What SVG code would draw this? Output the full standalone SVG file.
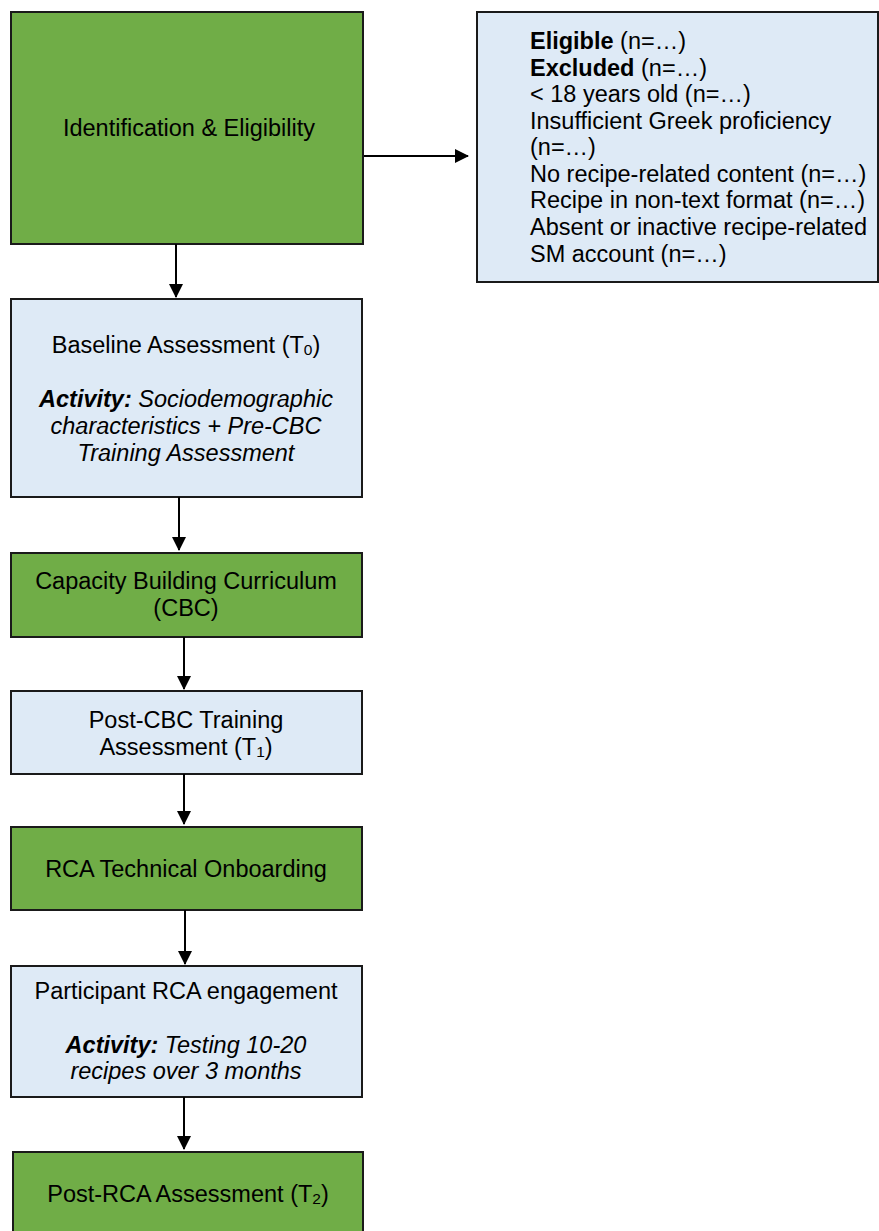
<svg xmlns="http://www.w3.org/2000/svg" width="879" height="1231" viewBox="0 0 879 1231">
<style>
.g{fill:#70AD47;stroke:#1a1a1a;stroke-width:2}
.b{fill:#DEEAF6;stroke:#1a1a1a;stroke-width:2}
text{font-family:"Liberation Sans",Arial,sans-serif;font-size:23.5px;fill:#000}
.c{text-anchor:middle}
.bd{font-weight:bold}
.it{font-style:italic}
.sub{font-size:15.5px}
.conn line{stroke:#000;stroke-width:2}
</style>
<defs>
<marker id="ah" markerWidth="14" markerHeight="14" refX="13" refY="7" orient="auto" markerUnits="userSpaceOnUse">
<path d="M0,0 L14,7 L0,14 Z" fill="#000"/>
</marker>
</defs>
<g id="n1">
<rect class="g" x="11" y="12" width="352" height="232"/>
<text class="c" x="189" y="136">Identification &amp; Eligibility</text>
</g>
<g id="n2">
<rect class="b" x="477" y="12" width="401" height="270"/>
<text x="530" y="49"><tspan class="bd">Eligible</tspan> (n=…)</text>
<text x="530" y="76"><tspan class="bd">Excluded</tspan> (n=…)</text>
<text x="530" y="102">&lt; 18 years old (n=…)</text>
<text x="530" y="129">Insufficient Greek proficiency</text>
<text x="530" y="155">(n=…)</text>
<text x="530" y="182">No recipe-related content (n=…)</text>
<text x="530" y="208">Recipe in non-text format (n=…)</text>
<text x="530" y="235">Absent or inactive recipe-related</text>
<text x="530" y="262">SM account (n=…)</text>
</g>
<g id="n3">
<rect class="b" x="11" y="299" width="351" height="198"/>
<text class="c" x="186" y="353">Baseline Assessment (T<tspan class="sub" dy="2">0</tspan><tspan dy="-2">)</tspan></text>
<text class="c it" x="186" y="407"><tspan class="bd">Activity:</tspan> Sociodemographic</text>
<text class="c it" x="186" y="434">characteristics + Pre-CBC</text>
<text class="c it" x="186" y="461">Training Assessment</text>
</g>
<g id="n4">
<rect class="g" x="11" y="553" width="351" height="84"/>
<text class="c" x="186" y="589">Capacity Building Curriculum</text>
<text class="c" x="186" y="616">(CBC)</text>
</g>
<g id="n5">
<rect class="b" x="11" y="691" width="351" height="83"/>
<text class="c" x="186" y="728">Post-CBC Training</text>
<text class="c" x="186" y="755">Assessment (T<tspan class="sub" dy="2">1</tspan><tspan dy="-2">)</tspan></text>
</g>
<g id="n6">
<rect class="g" x="11" y="827" width="351" height="83"/>
<text class="c" x="186" y="877">RCA Technical Onboarding</text>
</g>
<g id="n7">
<rect class="b" x="11" y="966" width="351" height="131"/>
<text class="c" x="186" y="999">Participant RCA engagement</text>
<text class="c it" x="186" y="1053"><tspan class="bd">Activity:</tspan> Testing 10-20</text>
<text class="c it" x="186" y="1079">recipes over 3 months</text>
</g>
<g id="n8">
<rect class="g" x="13" y="1152" width="350" height="90"/>
<text class="c" x="188" y="1202">Post-RCA Assessment (T<tspan class="sub" dy="2">2</tspan><tspan dy="-2">)</tspan></text>
</g>
<g class="conn" id="connectors">
<line x1="176" y1="244" x2="176" y2="297" marker-end="url(#ah)"/>
<line x1="364" y1="156" x2="468" y2="156" marker-end="url(#ah)"/>
<line x1="179" y1="497" x2="179" y2="550" marker-end="url(#ah)"/>
<line x1="184" y1="637" x2="184" y2="689" marker-end="url(#ah)"/>
<line x1="184" y1="774" x2="184" y2="824" marker-end="url(#ah)"/>
<line x1="185" y1="910" x2="185" y2="964" marker-end="url(#ah)"/>
<line x1="184" y1="1097" x2="184" y2="1149" marker-end="url(#ah)"/>
</g>
</svg>
